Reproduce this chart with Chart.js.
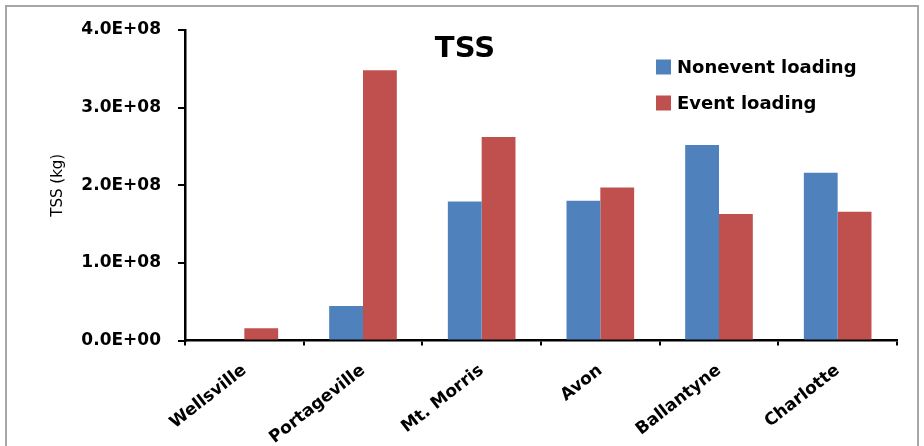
<!DOCTYPE html>
<html>
<head>
<meta charset="utf-8">
<script src="https://cdn.jsdelivr.net/npm/chart.js@4"></script>
<style>
  html, body { margin: 0; padding: 0; background: #fff; }
  #wrap { position: relative; width: 924px; height: 446px; overflow: hidden; }
  #frame {
    position: absolute; left: 5px; top: 5px; width: 914px; height: 460px;
    border: 2px solid #a6a6a6; box-sizing: border-box;
  }
  #tss { position: absolute; left: 0; top: 0; }
</style>
</head>
<body>
<div id="wrap">
  <div id="frame"></div>
  <canvas id="tss" width="924" height="446"></canvas>
</div>
<script>
// --- data ---
const sites = ["Wellsville", "Portageville", "Mt. Morris", "Avon", "Ballantyne", "Charlotte"];
const nonevent = [0, 4.45e7, 1.79e8, 1.80e8, 2.52e8, 2.16e8];
const eventLoad = [1.57e7, 3.48e8, 2.62e8, 1.97e8, 1.63e8, 1.66e8];
const yTicks = [0, 1e8, 2e8, 3e8, 4e8];

const BLUE = "#4F81BD";
const RED = "#C0504D";
const FONT = "'DejaVu Sans', sans-serif";

// 4.0E+08 style
function sci(v) {
  if (v === 0) return "0.0E+00";
  const e = Math.floor(Math.log10(v));
  const m = v / Math.pow(10, e);
  return m.toFixed(1) + "E+" + String(e).padStart(2, "0");
}

// title + legend drawn by hand to sit where the original has them
const decor = {
  id: "decor",
  afterDraw(chart) {
    const ctx = chart.ctx;
    ctx.save();
    ctx.fillStyle = "#000";
    ctx.font = "bold 29px " + FONT;
    ctx.textAlign = "center";
    ctx.textBaseline = "alphabetic";
    ctx.fillText("TSS", 465, 57);

    ctx.font = "bold 18px " + FONT;
    ctx.textAlign = "left";
    ctx.textBaseline = "middle";
    chart.data.datasets.forEach((ds, i) => {
      const y = 67 + i * 36;
      ctx.fillStyle = ds.backgroundColor;
      ctx.fillRect(656, y - 7.5, 15, 15);
      ctx.fillStyle = "#000";
      ctx.fillText(ds.label, 677, y + 1);
    });
    ctx.restore();
  },
};

new Chart(document.getElementById("tss"), {
  type: "bar",
  data: {
    labels: sites,
    datasets: [
      { label: "Nonevent loading", data: nonevent, backgroundColor: BLUE },
      { label: "Event loading", data: eventLoad, backgroundColor: RED },
    ],
  },
  options: {
    responsive: false,
    animation: false,
    layout: { padding: { top: 30, right: 27, left: 0, bottom: 0 } },
    datasets: { bar: { categoryPercentage: 0.57, barPercentage: 1 } },
    plugins: {
      legend: { display: false },
      title: { display: false },
      tooltip: { enabled: false },
    },
    scales: {
      x: {
        grid: {
          offset: true,
          drawOnChartArea: false,
          drawTicks: true,
          tickLength: 5,
          color: "#000",
          lineWidth: 2,
        },
        border: { color: "#000", width: 2.5 },
        ticks: {
          color: "#000",
          font: { family: FONT, weight: "bold", size: 17 },
          maxRotation: 38,
          minRotation: 38,
          padding: 15,
          autoSkip: false,
        },
        afterFit(scale) { scale.height = 105.5; },
      },
      y: {
        min: 0,
        max: 4e8,
        afterBuildTicks(scale) { scale.ticks = yTicks.map((v) => ({ value: v })); },
        grid: {
          drawOnChartArea: false,
          drawTicks: true,
          tickLength: 7,
          color: "#000",
          lineWidth: 2,
        },
        border: { color: "#000", width: 2.5 },
        ticks: {
          color: "#000",
          font: { family: FONT, weight: "bold", size: 17 },
          padding: 17,
          callback: (v) => sci(v),
        },
        title: {
          display: true,
          text: "TSS (kg)",
          color: "#000",
          font: { family: FONT, size: 15 },
          padding: { top: 49, bottom: 0 },
        },
        afterFit(scale) { scale.width = 185; },
      },
    },
  },
  plugins: [decor],
});
</script>
</body>
</html>
